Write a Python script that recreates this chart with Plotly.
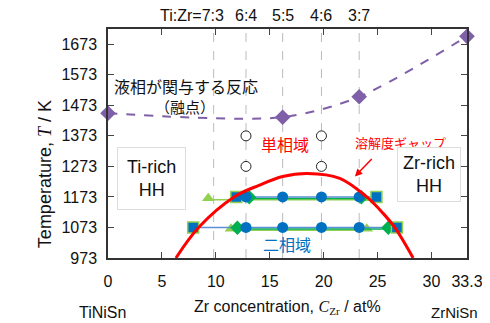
import plotly.graph_objects as go

# ---- data ----
ratio_labels = ["6:4", "5:5", "4:6", "3:7"]
ratio_x = [12.8, 16.2, 19.8, 23.3]
ratio73_x = 9.8
y_ticks = [973, 1073, 1173, 1273, 1373, 1473, 1573, 1673]
x_ticks = [0, 5, 10, 15, 20, 25, 30, 33.3]

melt_x = [0, 16.2, 23.3, 33.3]
melt_T = [1447, 1434, 1501, 1699]

gap_x = [6.3, 8.4, 11.7, 14.0, 16.2, 18.5, 21.5, 24.0, 25.5, 26.6, 28.3]
gap_T = [973, 1073, 1173, 1211, 1240, 1250, 1234, 1173, 1120, 1073, 973]

open_x = [12.8, 12.8, 19.8, 19.8]
open_T = [1373, 1273, 1373, 1273]

circ_x = [12.8, 16.2, 19.8, 23.3]

sq_1173 = [11.9, 24.9]
sq_1073 = [7.9, 26.8]
dia_1173 = [13.1, 23.5]
dia_1073 = [12.0, 26.0]
tri_1173 = [9.3, 23.8]
tri_1073 = [11.4, 24.0]

BLUE = "#0070C0"
LGREEN = "#92D050"
GREEN = "#00B050"
PURPLE = "#7F60A8"
FONT = "Liberation Sans, Arial, sans-serif"
JFONT = "Noto Sans CJK JP, sans-serif"

fig = go.Figure()

# dashed vertical composition lines
for xv in [ratio73_x] + ratio_x:
    fig.add_shape(type="line", x0=xv, x1=xv, y0=0, y1=1, xref="x", yref="paper",
                  line=dict(color="#BBBBBB", width=1, dash="dash"), layer="below")

# tie lines and markers
for T, sq, dia, tri in [(1173, sq_1173, dia_1173, tri_1173), (1073, sq_1073, dia_1073, tri_1073)]:
    fig.add_trace(go.Scatter(x=tri, y=[T - 9] * 2, mode="lines",
                             line=dict(color=LGREEN, width=1.5), showlegend=False))
    fig.add_trace(go.Scatter(x=tri, y=[T - 4] * 2, mode="markers",
                             marker=dict(symbol="triangle-up", size=11, color=LGREEN), showlegend=False))
    fig.add_trace(go.Scatter(x=dia, y=[T - 5] * 2, mode="lines",
                             line=dict(color=GREEN, width=1.5), showlegend=False))
    fig.add_trace(go.Scatter(x=sq, y=[T] * 2, mode="lines",
                             line=dict(color="#5B8FD6", width=1.5), showlegend=False))
    fig.add_trace(go.Scatter(x=dia, y=[T - 1] * 2, mode="markers",
                             marker=dict(symbol="diamond", size=11, color=GREEN), showlegend=False))
    fig.add_trace(go.Scatter(x=sq, y=[T] * 2, mode="markers",
                             marker=dict(symbol="square", size=11, color=BLUE,
                                         line=dict(color=LGREEN, width=1.5)), showlegend=False))
    fig.add_trace(go.Scatter(x=circ_x, y=[T] * len(circ_x), mode="markers",
                             marker=dict(symbol="circle", size=11, color=BLUE), showlegend=False))

# open circles (single phase)
fig.add_trace(go.Scatter(x=open_x, y=open_T, mode="markers",
                         marker=dict(symbol="circle", size=10, color="white",
                                     line=dict(color="#222", width=1)), showlegend=False))

# solubility gap curve
fig.add_trace(go.Scatter(x=gap_x, y=gap_T, mode="lines", line=dict(color="#FF0000", width=3, shape="spline"),
                         showlegend=False))

# melting line
fig.add_trace(go.Scatter(x=melt_x, y=melt_T, mode="lines+markers",
                         line=dict(color=PURPLE, width=2, dash="dash", shape="spline", smoothing=0.8),
                         marker=dict(symbol="diamond", size=12, color=PURPLE), showlegend=False,
                         cliponaxis=False))

ann = []
# top ratio labels
ann.append(dict(x=10.9, y=1.058, xref="x", yref="paper", text="Ti:Zr=7:3", showarrow=False,
                xanchor="right", yanchor="middle", font=dict(family=FONT, size=16, color="#111")))
for lab, xv in zip(ratio_labels, ratio_x):
    ann.append(dict(x=xv, y=1.058, xref="x", yref="paper", text=lab, showarrow=False,
                    xanchor="center", yanchor="middle", font=dict(family=FONT, size=16, color="#111")))

ann += [
    dict(x=0.4, y=1535, text="液相が関与する反応", showarrow=False, xanchor="left",
         font=dict(family=JFONT, size=16, color="#111")),
    dict(x=7.1, y=1468, text="（融点）", showarrow=False, xanchor="center",
         font=dict(family=JFONT, size=15, color="#111")),
    dict(x=16.4, y=1348, text="単相域", showarrow=False, font=dict(family=JFONT, size=16, color="#FF0000")),
    dict(x=27.1, y=1350, text="溶解度ギャップ", showarrow=False, font=dict(family=JFONT, size=13, color="#FF0000")),
    dict(x=16.6, y=1020, text="二相域", showarrow=False, font=dict(family=JFONT, size=16, color=BLUE)),
    dict(x=22.9, y=1240, ax=24.6, ay=1302, axref="x", ayref="y", text="", showarrow=True,
         arrowhead=2, arrowsize=1, arrowwidth=1.5, arrowcolor="#FF0000"),
    dict(x=4.0, y=1233, text="Ti-rich<br>HH", showarrow=False, bgcolor="white",
         bordercolor="#DDDDDD", borderwidth=1, borderpad=9,
         font=dict(family=FONT, size=18, color="#111")),
    dict(x=29.8, y=1246, text="Zr-rich<br>HH", showarrow=False, bgcolor="white",
         bordercolor="#DDDDDD", borderwidth=1, borderpad=5,
         font=dict(family=FONT, size=18, color="#111")),
    dict(x=-0.014, y=-0.236, xref="paper", yref="paper", text="TiNiSn", showarrow=False,
         xanchor="center", yanchor="middle", font=dict(family=FONT, size=16, color="#111")),
    dict(x=1.035, y=-0.24, xref="paper", yref="paper", text="ZrNiSn", showarrow=False,
         xanchor="right", yanchor="middle", font=dict(family=FONT, size=15, color="#111")),
    dict(x=0.5, y=-0.214, xref="paper", yref="paper",
         text="Zr concentration, <span style='font-family:Liberation Serif'><i>C</i><sub>Zr</sub></span> / at%",
         showarrow=False, xanchor="center", yanchor="middle", font=dict(family=FONT, size=16, color="#111")),
    dict(x=-0.175, y=0.367, xref="paper", yref="paper",
         text="Temperature, <span style='font-family:Liberation Serif'><i>T</i></span> / K",
         showarrow=False, textangle=-90, xanchor="center", yanchor="middle",
         font=dict(family=FONT, size=18, color="#111")),
]

# page body has an 8px default margin: shrink the figure and margins to compensate
fig.update_layout(
    width=482, height=315,
    margin=dict(l=100, r=23, t=21, b=65),
    paper_bgcolor="white", plot_bgcolor="white",
    annotations=ann,
    showlegend=False,
    xaxis=dict(range=[0, 33.3], tickvals=x_ticks, ticktext=[str(v) for v in x_ticks],
               showgrid=False, zeroline=False, showline=True, linecolor="#333", linewidth=1.5,
               mirror="allticks", ticks="inside", ticklen=6, tickcolor="#444",
               tickfont=dict(family=FONT, size=16, color="#111"), ticklabelstandoff=8, automargin=False),
    yaxis=dict(range=[973, 1723], tickvals=y_ticks,
               showgrid=False, zeroline=False, showline=True, linecolor="#333", linewidth=1.5,
               mirror="allticks", ticks="inside", ticklen=6, tickcolor="#444",
               tickfont=dict(family=FONT, size=16, color="#111"), ticklabelstandoff=6, automargin=False),
)

fig.write_html("out.html")
